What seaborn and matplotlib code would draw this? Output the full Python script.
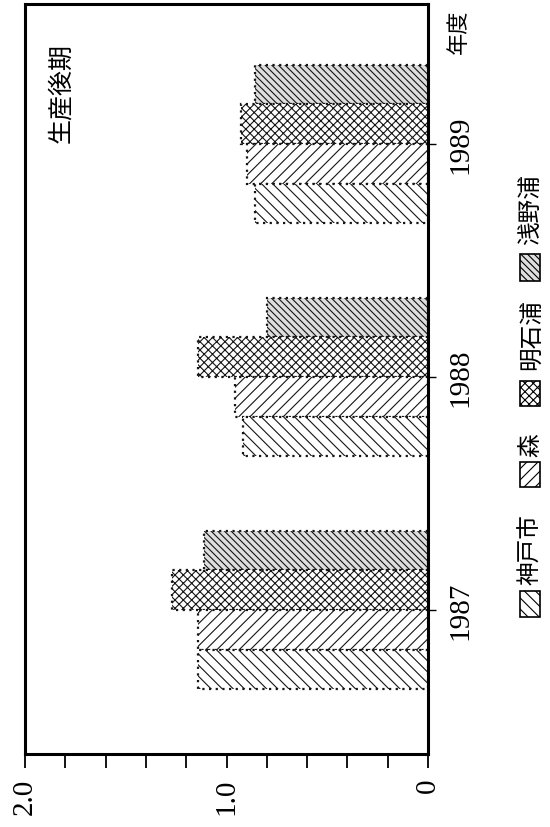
import matplotlib
matplotlib.use("Agg")
import matplotlib.pyplot as plt
import seaborn as sns
import pandas as pd
from matplotlib.patches import Rectangle
from matplotlib.ticker import FixedLocator, FixedFormatter, MultipleLocator

# ---- data -------------------------------------------------------------
years = ["1987", "1988", "1989"]
sites = ["神戸市", "森", "明石浦", "浅野浦"]
kobe = [1.14, 0.92, 0.86]
mori = [1.14, 0.96, 0.90]
akashi = [1.27, 1.14, 0.93]
asano = [1.11, 0.80, 0.86]
value_ticks = [0.0, 1.0, 2.0]
value_labels = ["0", "1.0", "2.0"]
panel_title = "生産後期"
year_axis_label = "年度"

# ---- style ------------------------------------------------------------
sns.set_theme(style="white")
plt.rcParams["font.family"] = ["Liberation Serif", "Noto Sans CJK JP", "DejaVu Sans"]
plt.rcParams["hatch.linewidth"] = 0.8
CJK = ["Noto Sans CJK JP", "DejaVu Sans"]

styles = {
    "神戸市": dict(facecolor="white", hatch="\\\\\\"),
    "森": dict(facecolor="white", hatch="///"),
    "明石浦": dict(facecolor="white", hatch="xxxx"),
    "浅野浦": dict(facecolor="#dedede", hatch="\\\\\\\\\\"),
}

W, H = 550, 828
fig = plt.figure(figsize=(W / 100, H / 100), dpi=100)


def fx(px):
    return px / W


def fy(py):
    return 1 - py / H


ax = fig.add_axes([fx(25), fy(755), fx(428) - fx(25), fy(5) - fy(755)])

df = pd.DataFrame({
    "年度": years * len(sites),
    "地区": [s for s in sites for _ in years],
    "値": kobe + mori + akashi + asano,
})

hue_order = sites[::-1]
sns.barplot(
    data=df, x="値", y="年度", hue="地区",
    order=years[::-1], hue_order=hue_order, orient="h",
    width=0.68, palette=["white"] * len(sites), legend=False,
    errorbar=None, ax=ax,
)

for name, cont in zip(hue_order, ax.containers):
    for bar in cont:
        bar.set_facecolor(styles[name]["facecolor"])
        bar.set_edgecolor("#151515")
        bar.set_hatch(styles[name]["hatch"])
        bar.set_linewidth(1.6)
        bar.set_linestyle((0, (1, 2)))

# ---- axes -------------------------------------------------------------
ax.set_xlim(2.0, 0.0)
ax.set_ylim(2.618, -0.601)
ax.set_xlabel("")
ax.set_ylabel("")

ax.xaxis.set_major_locator(FixedLocator(value_ticks))
ax.xaxis.set_major_formatter(FixedFormatter(value_labels))
ax.xaxis.set_minor_locator(MultipleLocator(0.2))
ax.tick_params(axis="x", which="both", bottom=True, direction="out",
               length=10, width=1.3, color="black")
ax.tick_params(axis="x", which="major", labelsize=21, pad=7,
               labelrotation=90, labelcolor="black")

ax.yaxis.tick_right()
ax.tick_params(axis="y", which="both", right=True, left=False, direction="out",
               length=6, width=1, color="black", labelsize=21, pad=8,
               labelrotation=90, labelcolor="black")
for lab in ax.get_yticklabels():
    lab.set_va("center")

for s in ax.spines.values():
    s.set_visible(True)
    s.set_color("black")
    s.set_linewidth(2.2)

# ---- annotations ------------------------------------------------------
fig.text(fx(61), fy(93), panel_title, rotation=90, ha="center", va="center",
         fontsize=18, family=CJK, color="black")
fig.text(fx(458), fy(32), year_axis_label, rotation=90, ha="center", va="center",
         fontsize=16, family=CJK, color="black")

# legend: hatched swatch below each rotated label
legend_layout = {
    "神戸市": (592, 618, 585),
    "森": (463, 488, 457),
    "明石浦": (382, 407, 370),
    "浅野浦": (255, 282, 245),
}
for name in sites:
    top, bottom, text_bottom = legend_layout[name]
    sw = Rectangle((fx(520), fy(bottom)), fx(20), (bottom - top) / H,
                   transform=fig.transFigure, facecolor=styles[name]["facecolor"],
                   hatch=styles[name]["hatch"], edgecolor="black", linewidth=1.2)
    fig.add_artist(sw)
    fig.text(fx(531), fy(text_bottom), name, rotation=90, ha="center", va="bottom",
             fontsize=17, family=CJK, color="black")

fig.savefig("out.png", dpi=100, facecolor="white")
